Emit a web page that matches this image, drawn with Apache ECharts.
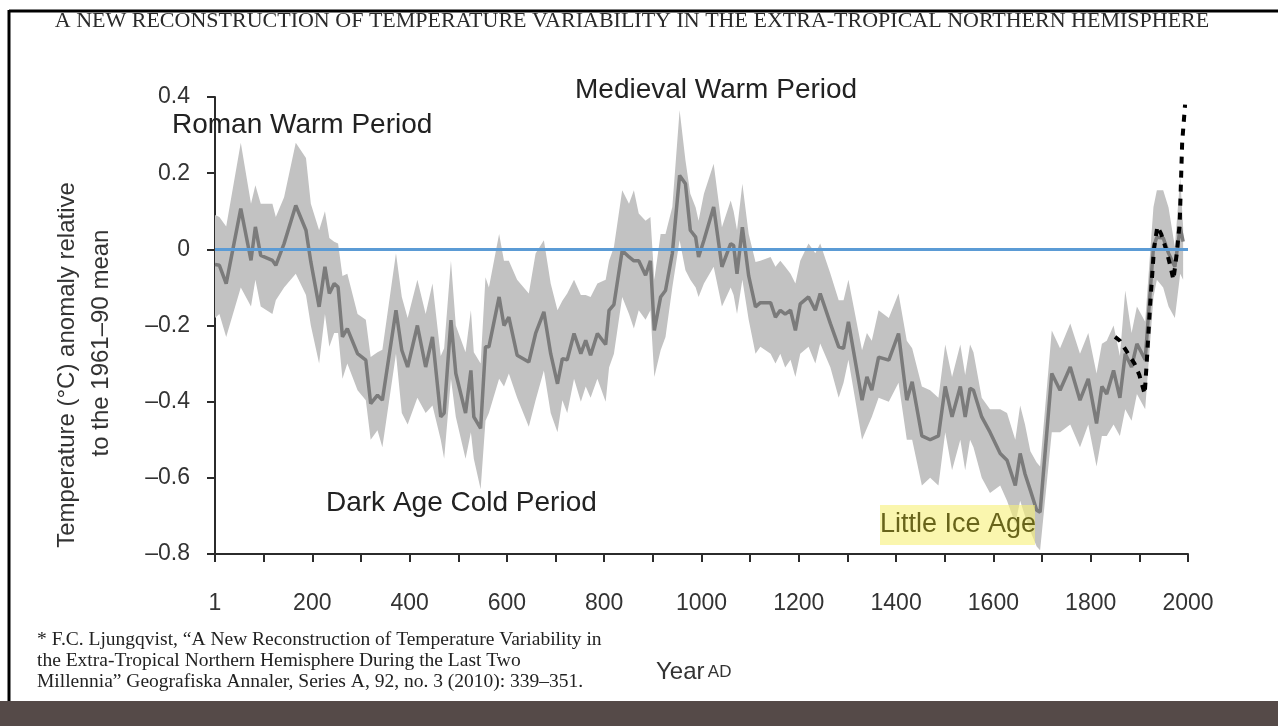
<!DOCTYPE html>
<html>
<head>
<meta charset="utf-8">
<title>Extra-tropical NH temperature reconstruction</title>
<script src="https://cdn.jsdelivr.net/npm/echarts@6/dist/echarts.min.js"></script>
<style>
  html, body { margin: 0; padding: 0; background: #fff; }
  #chart { width: 1278px; height: 726px; }
</style>
</head>
<body>
<div id="chart"></div>
<script>
// reconstruction (Ljungqvist 2010)
const years = [
  0, 9, 23, 53, 74, 83, 94, 118, 125, 142,
  166, 187, 197, 214, 226, 235, 245, 253, 262, 272,
  293, 310, 320, 334, 344, 372, 384, 396, 416, 433,
  447, 464, 471, 485, 495, 515, 526, 532, 546, 556,
  563, 584, 594, 604, 621, 645, 659, 676, 690, 704,
  714, 724, 738, 752, 762, 772, 786, 803, 810, 820,
  837, 851, 861, 871, 885, 895, 903, 916, 926, 940,
  955, 967, 977, 988, 994, 1005, 1025, 1042, 1060, 1066,
  1073, 1084, 1097, 1111, 1121, 1142, 1152, 1162, 1172, 1183,
  1193, 1203, 1220, 1234, 1244, 1265, 1282, 1292, 1302, 1330,
  1340, 1350, 1364, 1385, 1405, 1422, 1433, 1453, 1470, 1487,
  1501, 1515, 1532, 1542, 1552, 1559, 1576, 1593, 1614, 1628,
  1645, 1655, 1665, 1676, 1689, 1696, 1720, 1737, 1758, 1778,
  1795, 1812, 1823, 1833, 1847, 1860, 1871, 1884, 1895, 1912,
  1929, 1936, 1949, 1960, 1973, 1984, 1990
];
const meanTemp = [
  -0.04, -0.042, -0.09, 0.107, -0.029, 0.059, -0.016, -0.029, -0.042, 0.015,
  0.115, 0.05, -0.033, -0.151, -0.046, -0.116, -0.09, -0.099, -0.23, -0.208,
  -0.274, -0.291, -0.405, -0.383, -0.396, -0.16, -0.265, -0.309, -0.2, -0.309,
  -0.23, -0.44, -0.43, -0.186, -0.326, -0.43, -0.318, -0.44, -0.47, -0.256,
  -0.256, -0.125, -0.2, -0.178, -0.278, -0.296, -0.221, -0.164, -0.274, -0.353,
  -0.287, -0.29, -0.221, -0.274, -0.239, -0.278, -0.221, -0.25, -0.16, -0.145,
  -0.003, -0.02, -0.03, -0.03, -0.068, -0.03, -0.213, -0.125, -0.108, -0.011,
  0.194, 0.172, 0.05, 0.032, -0.02, 0.024, 0.111, -0.046, 0.015, 0.01,
  -0.064, 0.058, -0.07, -0.151, -0.14, -0.14, -0.178, -0.16, -0.17, -0.16,
  -0.213, -0.143, -0.125, -0.16, -0.116, -0.195, -0.256, -0.26, -0.19, -0.396,
  -0.335, -0.37, -0.283, -0.291, -0.221, -0.396, -0.348, -0.49, -0.5, -0.49,
  -0.36, -0.44, -0.36, -0.44, -0.365, -0.37, -0.44, -0.48, -0.536, -0.554,
  -0.62, -0.536, -0.59, -0.633, -0.685, -0.69, -0.326, -0.37, -0.309, -0.396,
  -0.34, -0.457, -0.36, -0.38, -0.318, -0.39, -0.274, -0.309, -0.248, -0.29,
  0.006, 0.032, 0.03, -0.01, -0.046, 0.058, 0.02
];
const upperTemp = [
  0.09, 0.085, 0.06, 0.28, 0.12, 0.168, 0.12, 0.12, 0.085, 0.137,
  0.28, 0.24, 0.12, 0.05, 0.1, 0.03, 0.02, 0.015, -0.07, -0.064,
  -0.17, -0.185, -0.283, -0.27, -0.264, -0.01, -0.125, -0.18, -0.08, -0.17,
  -0.09, -0.28, -0.26, -0.03, -0.2, -0.27, -0.16, -0.27, -0.3, -0.073,
  -0.1, 0.04, -0.03, -0.03, -0.08, -0.116, -0.011, 0.024, -0.09, -0.16,
  -0.135, -0.116, -0.08, -0.12, -0.12, -0.125, -0.09, -0.08, -0.03, 0.006,
  0.155, 0.12, 0.155, 0.094, 0.075, 0.085, -0.08, 0.04, 0.04, 0.111,
  0.365, 0.234, 0.146, 0.11, 0.075, 0.146, 0.225, 0.058, 0.128, 0.1,
  0.05, 0.172, 0.04, -0.033, -0.03, -0.02, -0.046, -0.03, -0.046, -0.064,
  -0.09, -0.03, 0.015, -0.01, 0.015, -0.064, -0.134, -0.134, -0.08, -0.265,
  -0.22, -0.24, -0.16, -0.18, -0.116, -0.24, -0.26, -0.36, -0.37, -0.39,
  -0.25, -0.335, -0.25, -0.33, -0.25, -0.27, -0.39, -0.42, -0.42, -0.43,
  -0.5, -0.41, -0.46, -0.53, -0.56, -0.57, -0.213, -0.26, -0.195, -0.274,
  -0.22, -0.326, -0.248, -0.24, -0.2, -0.28, -0.108, -0.22, -0.15, -0.19,
  0.111, 0.155, 0.155, 0.11, 0.006, 0.19, 0.058
];
const lowerTemp = [
  -0.18, -0.17, -0.23, -0.1, -0.15, -0.08, -0.15, -0.17, -0.134, -0.1,
  -0.064, -0.12, -0.2, -0.3, -0.17, -0.256, -0.22, -0.22, -0.34, -0.3,
  -0.37, -0.396, -0.5, -0.475, -0.52, -0.274, -0.43, -0.46, -0.39, -0.43,
  -0.41, -0.5, -0.55, -0.34, -0.44, -0.55, -0.48, -0.55, -0.63, -0.45,
  -0.43, -0.34, -0.36, -0.326, -0.39, -0.466, -0.396, -0.318, -0.43, -0.48,
  -0.396, -0.43, -0.34, -0.4, -0.36, -0.39, -0.34, -0.4, -0.31, -0.274,
  -0.125, -0.17, -0.208, -0.16, -0.185, -0.16, -0.335, -0.265, -0.23, -0.1,
  0.024, -0.055, -0.08, -0.1, -0.125, -0.09, -0.046, -0.15, -0.1, -0.12,
  -0.17, -0.08, -0.185, -0.274, -0.256, -0.274, -0.3, -0.274, -0.31, -0.29,
  -0.335, -0.274, -0.256, -0.3, -0.247, -0.31, -0.39, -0.35, -0.29, -0.5,
  -0.47, -0.44, -0.39, -0.4, -0.35, -0.5, -0.5, -0.62, -0.6, -0.62,
  -0.48, -0.58, -0.5, -0.58, -0.5, -0.52, -0.6, -0.64, -0.62, -0.66,
  -0.72, -0.66, -0.7, -0.74, -0.78, -0.79, -0.48, -0.48, -0.46, -0.52,
  -0.46, -0.57, -0.49, -0.49, -0.46, -0.49, -0.42, -0.45, -0.38, -0.42,
  -0.125, -0.08, -0.1, -0.15, -0.18, -0.064, -0.08
];

// instrumental record (dashed)
const instrYears = [1850, 1860, 1870, 1880, 1890, 1900, 1911, 1915, 1922, 1930, 1937, 1945, 1955, 1963, 1970, 1977, 1983, 1988, 1994];
const instrTemp = [-0.23, -0.24, -0.26, -0.28, -0.3, -0.33, -0.38, -0.3, -0.15, 0.0, 0.06, 0.04, 0.0, -0.04, -0.08, -0.01, 0.07, 0.28, 0.38];

const refValue = 0; // 1961-90 mean

function pairs(xs, ys) {
  return xs.map((x, i) => [x, ys[i]]);
}

const sans = '"Liberation Sans", Arial, sans-serif';
const serif = '"Liberation Serif", "Times New Roman", serif';

// uncertainty band: one polygon, upper edge then lower edge backwards
function renderBand(params, api) {
  if (params.dataIndex !== 0) return null;
  const pts = [];
  for (let i = 0; i < years.length; i++) pts.push(api.coord([years[i], upperTemp[i]]));
  for (let i = years.length - 1; i >= 0; i--) pts.push(api.coord([years[i], lowerTemp[i]]));
  return {
    type: 'polygon',
    shape: { points: pts },
    style: { fill: '#c2c2c2' }
  };
}

const chart = echarts.init(document.getElementById('chart'));

const option = {
  backgroundColor: '#fff',
  animation: false,
  grid: { left: 215, right: 90, top: 97, bottom: 172 },
  xAxis: {
    type: 'value',
    min: 0,
    max: 2000,
    interval: 100,
    axisLine: { onZero: false, lineStyle: { color: '#2b2b2b', width: 2 } },
    axisTick: { length: 8, lineStyle: { color: '#2b2b2b', width: 2 } },
    splitLine: { show: false },
    axisLabel: {
      margin: 38,
      color: '#333',
      fontFamily: sans,
      fontSize: 23,
      formatter: function (v) {
        if (v === 0) return '1';
        return v % 200 === 0 ? String(v) : '';
      }
    }
  },
  yAxis: {
    type: 'value',
    min: -0.8,
    max: 0.4,
    interval: 0.2,
    axisLine: { show: true, onZero: false, lineStyle: { color: '#2b2b2b', width: 2 } },
    axisTick: { show: true, length: 8, lineStyle: { color: '#2b2b2b', width: 2 } },
    splitLine: { show: false },
    axisLabel: {
      margin: 25,
      color: '#333',
      fontFamily: sans,
      fontSize: 23,
      formatter: function (v) {
        if (Math.abs(v) < 1e-9) return '0';
        return (v < 0 ? '\u2013' : '') + Math.abs(v).toFixed(1);
      }
    }
  },
  series: [
    {
      name: 'band',
      type: 'custom',
      renderItem: renderBand,
      data: years.map((y, i) => [y, lowerTemp[i], upperTemp[i]]),
      encode: { x: 0, y: [1, 2] },
      silent: true,
      z: 1
    },
    {
      name: 'reconstruction',
      type: 'line',
      data: pairs(years, meanTemp),
      symbol: 'none',
      lineStyle: { color: '#7b7b7b', width: 3.5 },
      z: 2,
      markLine: {
        silent: true,
        symbol: 'none',
        label: { show: false },
        lineStyle: { color: '#5b9bd5', width: 3, type: 'solid' },
        data: [{ yAxis: refValue }]
      }
    },
    {
      name: 'instrumental',
      type: 'line',
      data: pairs(instrYears, instrTemp),
      symbol: 'none',
      lineStyle: { color: '#000', width: 4, type: [7, 7] },
      z: 4
    }
  ],
  graphic: [
    // slide frame
    { type: 'line', shape: { x1: 9, y1: 11, x2: 1278, y2: 11 }, style: { stroke: '#000', lineWidth: 3 } },
    { type: 'line', shape: { x1: 9, y1: 10, x2: 9, y2: 701 }, style: { stroke: '#000', lineWidth: 3 } },
    { type: 'rect', shape: { x: 0, y: 701, width: 1278, height: 25 }, style: { fill: '#554a48' } },
    {
      type: 'text', x: 632, y: 21,
      style: { text: 'A NEW RECONSTRUCTION OF TEMPERATURE VARIABILITY IN THE EXTRA-TROPICAL NORTHERN HEMISPHERE',
        font: '22px ' + serif, fill: '#2a2a2a', align: 'center', verticalAlign: 'middle' }
    },
    // period labels
    {
      type: 'text', x: 575, y: 90, z: 10,
      style: { text: 'Medieval Warm Period', font: '28px ' + sans, fill: '#222', align: 'left', verticalAlign: 'middle' }
    },
    {
      type: 'text', x: 172, y: 125, z: 10,
      style: { text: 'Roman Warm Period', font: '28px ' + sans, fill: '#222', align: 'left', verticalAlign: 'middle' }
    },
    {
      type: 'text', x: 326, y: 503, z: 10,
      style: { text: 'Dark Age Cold Period', font: '28px ' + sans, fill: '#222', align: 'left', verticalAlign: 'middle' }
    },
    {
      type: 'rect', z: 10,
      shape: { x: 880, y: 505, width: 155, height: 40 },
      style: { fill: 'rgba(246, 240, 120, 0.6)' }
    },
    {
      type: 'text', x: 880, y: 525, z: 11,
      style: { text: 'Little Ice Age', font: '27px ' + sans, fill: '#68641a', align: 'left', verticalAlign: 'middle' }
    },
    // axis titles
    {
      type: 'text', x: 67, y: 365, rotation: Math.PI / 2,
      style: { text: 'Temperature (\u00b0C) anomaly relative', font: '24px ' + sans, fill: '#333', align: 'center', verticalAlign: 'middle' }
    },
    {
      type: 'text', x: 101, y: 343, rotation: Math.PI / 2,
      style: { text: 'to the 1961\u201390 mean', font: '24px ' + sans, fill: '#333', align: 'center', verticalAlign: 'middle' }
    },
    {
      type: 'text', x: 656, y: 672,
      style: {
        text: '{a|Year} {b|AD}',
        verticalAlign: 'middle', align: 'left',
        rich: {
          a: { font: '24px ' + sans, fill: '#333' },
          b: { font: '17px ' + sans, fill: '#333' }
        }
      }
    },
    // source note
    {
      type: 'text', x: 37, y: 661,
      style: {
        text: '* F.C. Ljungqvist, \u201cA New Reconstruction of Temperature Variability in\nthe Extra-Tropical Northern Hemisphere During the Last Two\nMillennia\u201d Geografiska Annaler, Series A, 92, no. 3 (2010): 339\u2013351.',
        font: '19.5px ' + serif, lineHeight: 21, fill: '#222', align: 'left', verticalAlign: 'middle'
      }
    }
  ]
};

chart.setOption(option);

window.addEventListener('resize', function () {
  chart.resize();
});
</script>
</body>
</html>
